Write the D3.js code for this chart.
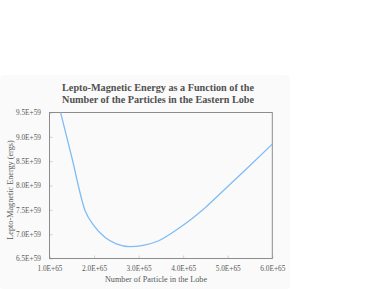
<!DOCTYPE html>
<html><head><meta charset="utf-8">
<script src="https://cdn.jsdelivr.net/npm/d3@7/dist/d3.min.js"></script>
<style>body{margin:0;background:#fff}svg{display:block}</style>
</head><body>
<svg id="c" width="374" height="289"></svg>
<script>
// Data (particles in units of 1E65, energy in units of 1E59)
const particles = [1.2, 1.5, 1.8, 2.0, 2.25, 2.5, 2.8, 3.1, 3.45, 3.9, 4.5, 5.0, 5.5, 6.0];
const energy    = [9.68, 8.58, 7.48, 7.17, 6.93, 6.80, 6.745, 6.77, 6.865, 7.12, 7.55, 7.98, 8.41, 8.85];
const xTicks = [1, 2, 3, 4, 5, 6];
const yTicks = [6.5, 7.0, 7.5, 8.0, 8.5, 9.0, 9.5];
const titleLines = ["Lepto-Magnetic Energy as a Function of the", "Number of the Particles in the Eastern Lobe"];
const xTitle = "Number of Particle in the Lobe";
const yTitle = "Lepto-Magnetic Energy (ergs)";

const svg = d3.select("#c");
const font = "'Liberation Serif','Times New Roman',serif";
const textCol = "#595959";

svg.append("rect").attr("x",0).attr("y",75).attr("width",290).attr("height",214).attr("rx",4).attr("fill","#fafafa");

const L = 49.5, R = 272.3, T = 112.5, B = 258.5;
const x = d3.scaleLinear().domain([1, 6]).range([L, R]);
const y = d3.scaleLinear().domain([6.5, 9.5]).range([B, T]);

// title
svg.append("g").selectAll("text").data(titleLines).join("text")
  .attr("x", 158).attr("y", (d,i)=>90.5 + i*12.8)
  .attr("text-anchor","middle").attr("font-family",font).attr("font-weight","bold")
  .attr("font-size",10.2).attr("fill","#505050").text(d=>d);

// axes
const xAxis = d3.axisBottom(x).tickValues(xTicks).tickSize(-3).tickPadding(7)
  .tickFormat(d=>d.toFixed(1)+"E+65");
const gx = svg.append("g").attr("transform",`translate(0,${B})`).call(xAxis);
const yAxis = d3.axisLeft(y).tickValues(yTicks).tickSize(-3).tickPadding(8.5)
  .tickFormat(d=>d.toFixed(1)+"E+59");
const gy = svg.append("g").attr("transform",`translate(${L},0)`).call(yAxis);
[gx, gy].forEach(g=>{
  g.select(".domain").remove();
  g.selectAll(".tick line").attr("stroke","#d0d0d0");
  g.selectAll(".tick text").attr("font-family",font).attr("font-size",7.3).attr("fill",textCol);
});

// plot border
svg.append("rect").attr("x",L).attr("y",T).attr("width",R-L).attr("height",B-T)
  .attr("fill","none").attr("stroke","#8c8c8c").attr("stroke-width",1);

// clip + line
svg.append("clipPath").attr("id","clip").append("rect")
  .attr("x",L).attr("y",T).attr("width",R-L).attr("height",B-T);
const pts = particles.map((p,i)=>[p, energy[i]]);
const line = d3.line().x(d=>x(d[0])).y(d=>y(d[1])).curve(d3.curveMonotoneX);
svg.append("path").datum(pts).attr("clip-path","url(#clip)")
  .attr("d",line).attr("fill","none").attr("stroke","#80bcf5").attr("stroke-width",1.3);

// axis titles
svg.append("text").attr("x",156).attr("y",282).attr("text-anchor","middle")
  .attr("font-family",font).attr("font-size",8.2).attr("fill",textCol).text(xTitle);
svg.append("text").attr("transform",`translate(12.5,190) rotate(-90)`).attr("text-anchor","middle")
  .attr("font-family",font).attr("font-size",8.2).attr("fill",textCol).text(yTitle);
</script>
</body></html>
